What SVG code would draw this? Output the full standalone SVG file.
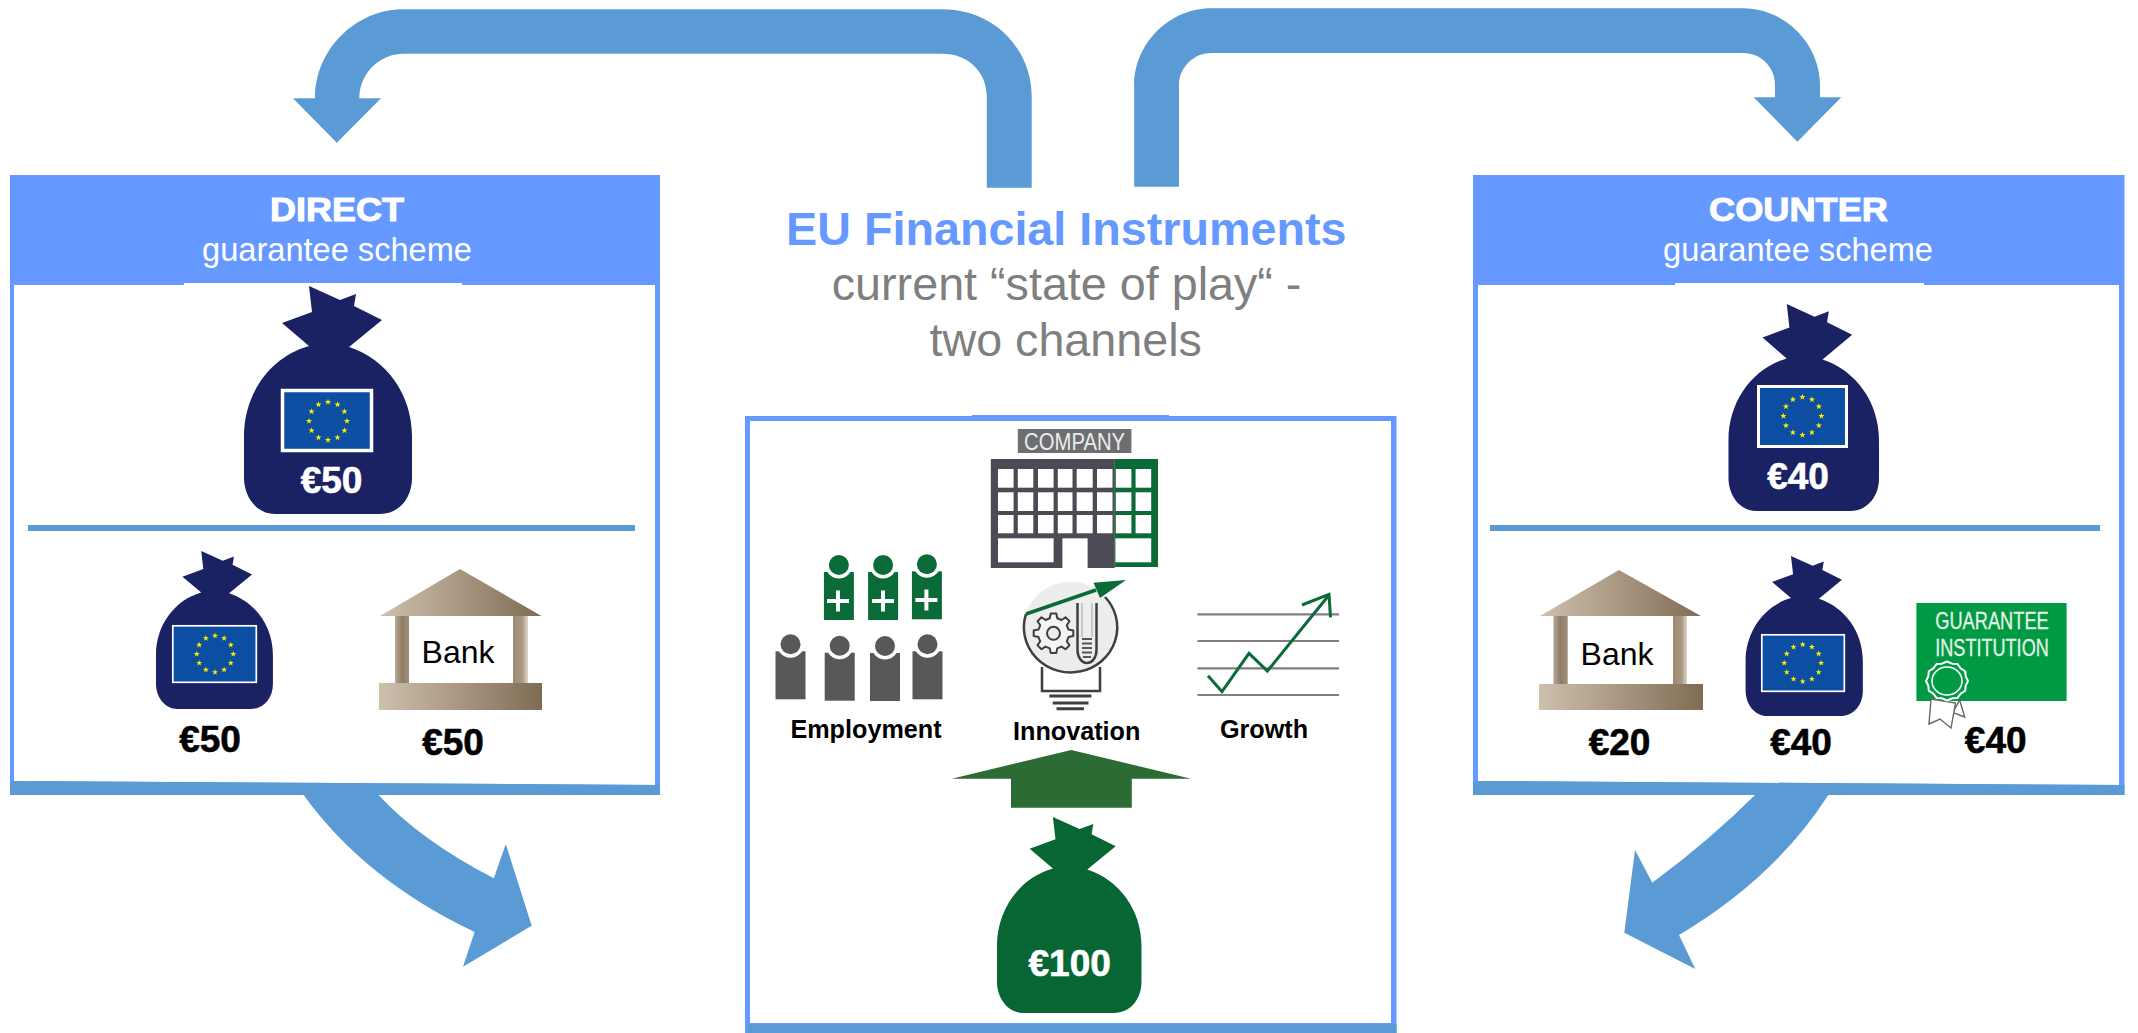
<svg xmlns="http://www.w3.org/2000/svg" xmlns:xlink="http://www.w3.org/1999/xlink" width="2138" height="1033" viewBox="0 0 2138 1033">
<style>
text{font-family:"Liberation Sans",Arial,sans-serif}
.b{font-weight:bold}
.m{text-anchor:middle}
.head{font-size:34px;font-weight:bold;fill:#fff;stroke:#fff;stroke-width:1px;text-anchor:middle}
.sub{font-size:32.6px;fill:#fff;text-anchor:middle}
.eur{font-size:37px;font-weight:bold;text-anchor:middle;stroke-width:.6px}
.w{fill:#fff;stroke:#fff}
.k{fill:#000;stroke:#000}
.lab{font-size:25.2px;font-weight:bold;text-anchor:middle;fill:#000}
.bank{font-size:32px;text-anchor:middle;fill:#000}
.title{font-size:46.7px;text-anchor:middle}
.gr{fill:#7f7f7f}
.navy{fill:#1b2263}
.pan{fill:#6699ff}
.band{fill:#5b9bd5}
.white{fill:#fff}
.gw{fill:#0b6b38}
.dg{fill:#58585a}
.ln{stroke:#3f3f3f;stroke-width:2.5;fill:none}
.gl{stroke:#808080;stroke-width:2.2;fill:none}
.gs{stroke:#0b6b38;stroke-width:3;fill:none}
.inst{font-size:24px;fill:#e4f2e6;stroke:#e4f2e6;stroke-width:.3px;text-anchor:middle}
</style>
<defs>
<path id="bag" d="M65 0L96 14L112 8L110 20L138 34L105 61C142 73 168 108 168 150L168 192C168 212 155 228 136 228L31 228C12 228 0 210 0 192L0 150C0 108 26 71 65 60L38 37L68 26Z"/>
<polygon id="star" fill="#ffee00" points="0,-3.3 .77,-1.06 3.14,-1.03 1.24,.4 1.95,2.68 0,1.3 -1.95,2.68 -1.24,.4 -3.14,-1.03 -.77,-1.06"/>
<g id="stars">
<use href="#star" x="0" y="-19"/><use href="#star" x="9.5" y="-16.45"/><use href="#star" x="16.45" y="-9.5"/><use href="#star" x="19" y="0"/><use href="#star" x="16.45" y="9.5"/><use href="#star" x="9.5" y="16.45"/><use href="#star" x="0" y="19"/><use href="#star" x="-9.5" y="16.45"/><use href="#star" x="-16.45" y="9.5"/><use href="#star" x="-19" y="0"/><use href="#star" x="-16.45" y="-9.5"/><use href="#star" x="-9.5" y="-16.45"/>
</g>
<linearGradient id="tan"><stop offset="0" stop-color="#cdc0ad"/><stop offset=".5" stop-color="#a99680"/><stop offset="1" stop-color="#7f6c55"/></linearGradient>
<linearGradient id="pilL"><stop offset="0" stop-color="#b8a996"/><stop offset=".5" stop-color="#8f7c66"/><stop offset="1" stop-color="#a08e78"/></linearGradient>
<linearGradient id="pilR"><stop offset="0" stop-color="#9b8972"/><stop offset=".6" stop-color="#a89680"/><stop offset="1" stop-color="#ded6cb"/></linearGradient>
<g id="person"><rect x="-15" y="7" width="30" height="48"/><circle cx="0" cy="0" r="13.5" class="white"/><circle cx="0" cy="0" r="10"/></g>
</defs>
<rect width="2138" height="1033" fill="#fff"/>

<g id="direct-panel">
<rect class="pan" x="10" y="175" width="650" height="620"/>
<polygon class="white" points="14,285 655,285 655,785 14,781"/>
<rect class="white" x="184" y="283" width="278" height="3"/>
<polygon class="band" points="10,781 660,785 660,795 10,795"/>
<rect class="band" x="28" y="525" width="607" height="6"/>
<text class="head" x="337" y="221" textLength="134" lengthAdjust="spacingAndGlyphs">DIRECT</text>
<text class="sub" x="337" y="261">guarantee scheme</text>
</g>
<g id="direct-bag-main">
<use href="#bag" class="navy" transform="translate(244 286)"/>
<rect x="282.500" y="390.500" width="89" height="60" fill="#0b4ea2" stroke="#fff" stroke-width="3.500"/>
<use href="#stars" transform="translate(328 421)"/>
<text class="eur w" x="331.500" y="493">€50</text>
</g>
<g id="direct-bag-small">
<use href="#bag" class="navy" transform="translate(156 551) scale(.696 .693)"/>
<rect x="172.800" y="625.800" width="83.500" height="56.500" fill="#0b4ea2" stroke="#fff" stroke-width="1.700"/>
<use href="#stars" transform="translate(215 654) scale(.96)"/>
<text class="eur k" x="210" y="752">€50</text>
</g>
<g id="direct-bank">
<polygon fill="url(#tan)" points="460,569 541.500,616 380,616"/>
<rect x="395" y="616" width="14" height="68" fill="url(#pilL)"/>
<rect x="513" y="616" width="15" height="68" fill="url(#pilR)"/>
<rect x="379" y="683" width="163" height="27" fill="url(#tan)"/>
<text class="bank" x="458" y="663">Bank</text>
<text class="eur k" x="453" y="755">€50</text>
</g>

<g id="counter-panel">
<rect class="pan" x="1473" y="175" width="651.500" height="620"/>
<polygon class="white" points="1478,285 2119,285 2119,785 1478,781"/>
<rect class="white" x="1675" y="283" width="249" height="3"/>
<polygon class="band" points="1473,781 2124.500,785 2124.500,795 1473,795"/>
<rect class="band" x="1490" y="525" width="610" height="6"/>
<text class="head" x="1798.500" y="221" textLength="179" lengthAdjust="spacingAndGlyphs">COUNTER</text>
<text class="sub" x="1798" y="261">guarantee scheme</text>
</g>
<g id="counter-bag-main">
<use href="#bag" class="navy" transform="translate(1728.500 304) scale(.896 .908)"/>
<rect x="1758.500" y="386.500" width="88" height="60" fill="#0b4ea2" stroke="#fff" stroke-width="3"/>
<use href="#stars" transform="translate(1802.400 416)"/>
<text class="eur w" x="1798" y="489">€40</text>
</g>
<g id="counter-bank">
<polygon fill="url(#tan)" points="1619,570 1701,616 1540,616"/>
<rect x="1553.400" y="616" width="14.300" height="69" fill="url(#pilL)"/>
<rect x="1673" y="616" width="14" height="69" fill="url(#pilR)"/>
<rect x="1539" y="684" width="164" height="26" fill="url(#tan)"/>
<text class="bank" x="1617" y="665">Bank</text>
<text class="eur k" x="1619.500" y="755">€20</text>
</g>
<g id="counter-bag-small">
<use href="#bag" class="navy" transform="translate(1745.600 556) scale(.698 .702)"/>
<rect x="1761.800" y="634.800" width="82.500" height="56.500" fill="#0b4ea2" stroke="#fff" stroke-width="1.700"/>
<use href="#stars" transform="translate(1802.700 663) scale(.97)"/>
<text class="eur k" x="1801" y="755">€40</text>
</g>
<g id="guarantee-institution">
<rect x="1916.400" y="603" width="150.200" height="98" fill="#009a44"/>
<text class="inst" x="1992" y="629" textLength="113.500" lengthAdjust="spacingAndGlyphs">GUARANTEE</text>
<text class="inst" x="1992" y="655.500" textLength="113.500" lengthAdjust="spacingAndGlyphs">INSTITUTION</text>
<polygon points="1959.600,700 1964.700,717 1953,712.700" fill="#fff" stroke="#666" stroke-width="1.400"/>
<polygon points="1931,699 1929,724 1940,719 1951,728 1955.500,703" fill="#fff" stroke="#666" stroke-width="1.400"/>
<g transform="translate(1947 681)">
<polygon fill="#009a44" stroke="#fff" stroke-width="2" stroke-linejoin="round" points="21,0 18.700,4.600 18.200,9.750 13.700,12.700 10.500,16.900 5,17.300 0,19.500 -5,17.300 -10.500,16.900 -13.700,12.700 -18.200,9.750 -18.700,4.600 -21,0 -18.700,-4.600 -18.200,-9.750 -13.700,-12.700 -10.500,-16.900 -5,-17.300 0,-19.500 5,-17.300 10.500,-16.900 13.700,-12.700 18.200,-9.750 18.700,-4.600"/>
<ellipse rx="15" ry="14" fill="none" stroke="#fff" stroke-width="1.500"/>
</g>
<text class="eur k" x="1995.700" y="753">€40</text>
</g>

<g id="center-title">
<text class="title b" x="1066.300" y="245" fill="#6699ff">EU Financial Instruments</text>
<text class="title gr" x="1066.600" y="300">current “state of play“ -</text>
<text class="title gr" x="1065.700" y="355.700">two channels</text>
</g>

<g id="center-panel">
<rect class="pan" x="745" y="416" width="651.500" height="617"/>
<rect class="pan" x="972" y="415" width="197" height="4"/>
<rect class="white" x="750" y="421" width="641" height="602"/>
<rect class="band" x="748" y="1024" width="648.500" height="9"/>
</g>

<g id="company">
<rect x="1017.800" y="429" width="113.600" height="24" fill="#6d6e71"/>
<text x="1074.600" y="450" font-size="24" fill="#ececec" text-anchor="middle" textLength="101" lengthAdjust="spacingAndGlyphs">COMPANY</text>
<rect x="990.800" y="459" width="124" height="109" fill="#4b4a55"/>
<rect class="gw" x="1114.600" y="459" width="43.400" height="108"/>
<g class="white">
<rect x="998" y="469" width="15.600" height="18.700"/><rect x="1017.800" y="469" width="15.500" height="18.700"/><rect x="1038" y="469" width="15.600" height="18.700"/><rect x="1057.800" y="469" width="14.700" height="18.700"/><rect x="1076.700" y="469" width="16" height="18.700"/><rect x="1097" y="469" width="15.500" height="18.700"/><rect x="1115.800" y="469" width="15.600" height="18.700"/><rect x="1135.600" y="469" width="15.600" height="18.700"/>
<rect x="998" y="492.300" width="15.600" height="18.700"/><rect x="1017.800" y="492.300" width="15.500" height="18.700"/><rect x="1038" y="492.300" width="15.600" height="18.700"/><rect x="1057.800" y="492.300" width="14.700" height="18.700"/><rect x="1076.700" y="492.300" width="16" height="18.700"/><rect x="1097" y="492.300" width="15.500" height="18.700"/><rect x="1115.800" y="492.300" width="15.600" height="18.700"/><rect x="1135.600" y="492.300" width="15.600" height="18.700"/>
<rect x="998" y="515" width="15.600" height="18.300"/><rect x="1017.800" y="515" width="15.500" height="18.300"/><rect x="1038" y="515" width="15.600" height="18.300"/><rect x="1057.800" y="515" width="14.700" height="18.300"/><rect x="1076.700" y="515" width="16" height="18.300"/><rect x="1097" y="515" width="15.500" height="18.300"/><rect x="1115.800" y="515" width="15.600" height="18.300"/><rect x="1135.600" y="515" width="15.600" height="18.300"/>
<rect x="998" y="538.300" width="55.600" height="24"/><rect x="1062.400" y="538.300" width="25.200" height="30"/><rect x="1115.400" y="538.300" width="35.800" height="24"/>
</g>
</g>

<g id="employment">
<g class="gw">
<use href="#person" transform="translate(838.900 565)"/><use href="#person" transform="translate(883.100 565)"/><use href="#person" transform="translate(926.900 564.300)"/>
</g>
<path fill="none" stroke="#fff" stroke-width="4" d="M827 601H849M838 590.500V611.500M872 601H894M883 590.500V611.500M915.400 600H937.400M926.400 589.500V610.500"/>
<g class="dg">
<use href="#person" transform="translate(790.500 644.300)"/><use href="#person" transform="translate(839.700 645.700)"/><use href="#person" transform="translate(885 646)"/><use href="#person" transform="translate(927.500 644.300)"/>
</g>
<text class="lab" x="866" y="738">Employment</text>
</g>

<g id="innovation">
<ellipse cx="1070.400" cy="626.700" rx="46.700" ry="45" fill="#ededed"/>
<path class="ln" d="M1026 614A46.700 45 0 1 0 1105 597"/>
<polygon transform="translate(1053.500 633.300)" fill="#f4f4f4" stroke="#3f3f3f" stroke-width="2" stroke-linejoin="round" points="15.040,-3.750 19.800,-2.780 19.800,2.780 15.040,3.750 13.290,7.980 15.970,12.040 12.040,15.970 7.980,13.290 3.750,15.040 2.780,19.800 -2.780,19.800 -3.750,15.040 -7.980,13.290 -12.040,15.970 -15.970,12.040 -13.290,7.980 -15.040,3.750 -19.800,2.780 -19.800,-2.780 -15.040,-3.750 -13.290,-7.980 -15.970,-12.040 -12.040,-15.970 -7.980,-13.290 -3.750,-15.040 -2.780,-19.800 2.780,-19.800 3.750,-15.040 7.980,-13.290 12.040,-15.970 15.970,-12.040 13.290,-7.980"/>
<circle cx="1053.500" cy="633.300" r="6.500" fill="#ededed" stroke="#3f3f3f" stroke-width="2"/>
<path class="ln" d="M1077.500 603V650A9.500 13 0 0 0 1096.500 650V603"/>
<path d="M1082 603V637M1092 603V637" stroke="#bbb" stroke-width="1.500" fill="none"/>
<path d="M1082 639H1092M1082 643.500H1092M1082 648H1092M1082 652.500H1092M1083 657H1091" stroke="#555" stroke-width="1.800" fill="none"/>
<path class="ln" d="M1042 667V691H1100V667"/>
<path d="M1049.300 696H1091.400M1052.700 703H1088.500M1056.500 708.700H1084" stroke="#3f3f3f" stroke-width="3" fill="none"/>
<path d="M1026 614L1096 590" stroke="#0b6b38" stroke-width="3.500" fill="none"/>
<polygon class="gw" points="1126,580 1093.500,582.700 1100,598"/>
<text class="lab" x="1076.700" y="740">Innovation</text>
</g>

<g id="growth">
<path class="gl" d="M1197.500 614.300H1339M1197.500 641H1339M1197.500 668.300H1339M1197.500 695H1339"/>
<path class="gs" d="M1208 675.700L1222 691.700L1249 653.300L1267.400 671L1329 595M1302 605L1329 594.300L1330.500 617.300"/>
<text class="lab" x="1264" y="738">Growth</text>
</g>

<g id="green-arrow">
<polygon fill="#2c6b33" points="1071.200,750 1191,778.700 1131.800,778.700 1131.800,807.700 1011,807.700 1011,778.700 951.700,778.700"/>
</g>
<g id="green-bag">
<use href="#bag" fill="#086534" transform="translate(997 817) scale(.86 .86)"/>
<text class="eur w" x="1069.700" y="975.700">€100</text>
</g>

<g id="connectors" class="band">
<path d="M1031.700 187.700V96.700C1031.700 50 995 9.300 942.400 9.300H403.700C355 9.300 315 50 315 98.300H293L336.800 142.700L381 98.300H359.300C359.300 75 378 53.700 403.700 53.700H942.400C968 53.700 986.800 72 986.800 96.700V187.700Z"/>
<path d="M1134.200 186.700V85C1134.200 45 1168 8.300 1211.200 8.300H1742.900C1786 8.300 1820 45 1820 85V97.300H1841.300L1797.400 141.700L1753.600 97.300H1775V85C1775 68 1762 53 1742.900 53H1211.200C1193 53 1179 68 1179 85V186.700Z"/>
<path d="M303.600 795Q365 880 474.600 932L463 966.700L531.700 925.700L505.800 844L493.800 878.300Q420 840 378.600 795Z"/>
<path d="M1755 795Q1710 840 1652.300 882.700L1635 850L1624.300 932.700L1695.300 969L1679 935Q1775 878 1828.300 795Z"/>
</g>
</svg>
